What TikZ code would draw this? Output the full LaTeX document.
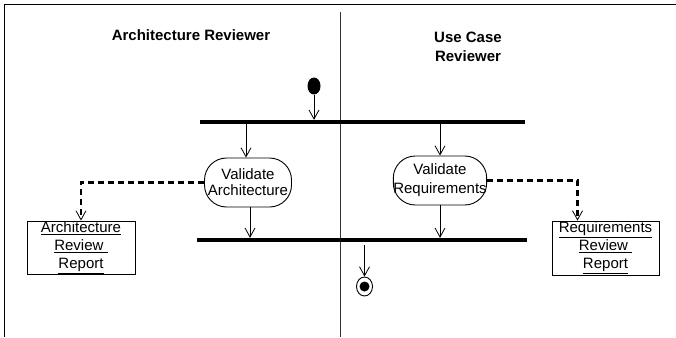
\documentclass[tikz,border=0pt]{standalone}
\usepackage{fontspec}
\setmainfont{Liberation Sans}
\usepackage{tikz}
\usetikzlibrary{arrows.meta, positioning, shapes.geometric}

\begin{document}
\begin{tikzpicture}[x=1pt, y=-1pt,
  font=\fontsize{15}{18}\selectfont,
  actbox/.style={draw, line width=0.9pt, rounded corners=22pt, minimum width=87pt, minimum height=49pt, inner sep=0pt, align=center},
  objbox/.style={draw, line width=0.9pt, minimum width=108pt, minimum height=53pt, inner sep=0pt, align=center},
  bar/.style={fill=black, inner sep=0pt, minimum height=4pt},
  flow/.style={-{Straight Barb[length=9pt, width=10pt]}, line width=0.8pt},
  dep/.style={-{Straight Barb[length=9pt, width=10pt, line width=0.8pt]}, line width=2.3pt, dash pattern=on 6pt off 4pt}
]
  \useasboundingbox (0,0) rectangle (676,337);

  % Frame and swimlanes
  \draw[line width=1pt] (4,337) -- (4,5) -- (676,5);
  \draw[line width=0.9pt, black!80] (340,12) -- (340,337);
  \node[font=\fontsize{15}{18}\selectfont\bfseries] (laneA) at (191,35) {Architecture Reviewer};
  \node[font=\fontsize{15}{19}\selectfont\bfseries, align=center] (laneU) at (468,47) {Use Case\\Reviewer};

  % Start, fork and join
  \node[ellipse, fill=black, inner sep=0pt, minimum width=13pt, minimum height=17pt] (start) at (314,86) {};
  \node[bar, minimum width=325pt] (fork) at (362.5,122) {};
  \node[bar, minimum width=330pt] (join) at (362,240) {};

  % Activities
  \node[actbox] (valA) at (248,182.5) {Validate\\[-2pt]Architecture};
  \node[actbox, minimum width=92pt] (valR) at (440,180.5) {Validate\\[1pt]Requirements};

  % Objects
  \node[objbox] (repA) at (81,247.5) {\underline{Architecture}\\\underline{Review~}\\\underline{Report}};
  \node[objbox, minimum width=107pt, minimum height=54pt] (repR) at (605.5,248) {\underline{Requirements}\\\underline{Review~}\\\underline{Report}};

  % End
  \node[ellipse, draw, line width=0.9pt, inner sep=0pt, minimum width=16pt, minimum height=19pt] (final) at (364.5,286.5) {};
  \node[circle, fill=black, inner sep=0pt, minimum size=10pt] (finaldot) at (final.center) {};

  % Control flow
  \draw[flow] (start) -- (start |- fork.north);
  \draw[flow] ([xshift=-2pt]valA.north |- fork.south) -- ([xshift=-2pt]valA.north);
  \draw[flow] (valR.north |- fork.south) -- (valR.north);
  \draw[flow] ([xshift=2pt]valA.south) -- ([xshift=2pt]valA.south |- join.north);
  \draw[flow] (valR.south) -- (valR.south |- join.north);
  \draw[flow] ([yshift=-3pt]final |- join.south) -- (final.north);

  % Object flow
  \draw[dep] (valA.west) -- (repA.north |- valA.west) -- (repA.north);
  \draw[dep] (valR.east) -- ([xshift=-28pt]repR.north |- valR.east) -- ([xshift=-28pt]repR.north);
\end{tikzpicture}
\end{document}
